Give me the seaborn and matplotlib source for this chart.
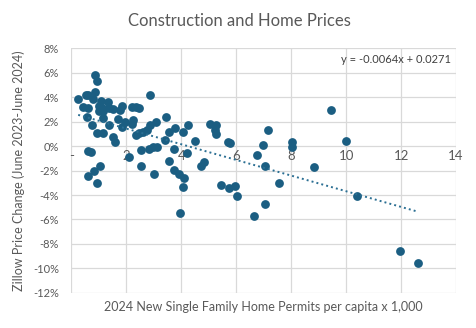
import numpy as np
import pandas as pd
import matplotlib
matplotlib.use("Agg")
import matplotlib.pyplot as plt
from matplotlib.ticker import FuncFormatter
import seaborn as sns

# Permits per 1,000 residents (2024) and Zillow price change, Jun 2023 - Jun 2024 (%)
permits = [
    0.855, 0.916, 0.247, 0.527, 0.618, 0.855, 0.771, 1.062, 1.316, 0.429,
    0.618, 1.011, 1.098, 1.000, 1.156, 1.375, 1.520, 1.825, 1.764, 2.200,
    2.345, 2.455, 2.855,
    0.553, 0.735, 1.156, 1.375, 1.691, 1.945, 1.855, 2.247, 2.218, 0.916,
    1.135, 1.520, 1.582, 2.345, 2.473, 2.764, 2.873, 3.091, 2.600, 3.447,
    3.545, 3.753, 4.065, 4.236, 3.425, 4.491,
    0.611, 0.709, 2.102, 2.516, 2.818, 2.975, 3.120, 3.745, 4.218, 1.036,
    0.829, 0.611, 0.938, 2.527, 3.018, 3.564, 3.745, 3.927, 4.098, 4.065,
    3.971, 4.735,
    5.036, 5.255, 5.218, 5.280, 5.702, 5.789, 7.156, 6.975, 6.745, 8.029,
    8.029, 8.829, 4.829, 7.062, 5.462, 5.738, 5.971, 6.044, 7.556, 7.062,
    6.647, 9.462, 10.007, 10.393, 11.945, 12.611,
]
price_change = [
    5.82, 5.33, 3.81, 4.18, 4.14, 4.43, 3.81, 3.69, 3.63, 3.16,
    3.11, 3.28, 3.09, 2.89, 2.87, 3.09, 3.03, 3.30, 2.91, 3.22,
    3.16, 3.09, 4.14,
    2.35, 1.72, 2.27, 1.76, 2.21, 1.99, 1.56, 2.13, 1.84, 1.07,
    1.07, 0.74, 0.33, 0.90, 1.07, 1.31, 1.72, 1.93, 1.19, 2.35,
    1.19, 1.48, 1.12, 1.72, 0.52, 0.39,
    -0.43, -0.52, -0.90, -0.30, -0.25, -0.11, -0.11, -0.20, -0.59, -1.66,
    -2.07, -2.48, -2.98, -1.66, -2.30, -1.25, -1.93, -2.27, -2.60, -3.34,
    -5.43, -1.62,
    1.80, 1.72, 1.31, 0.96, 0.35, 0.22, 1.31, 0.06, -0.75, 0.33,
    -0.06, -1.72, -1.29, -1.64, -3.14, -3.39, -3.28, -4.10, -2.98, -4.70,
    -5.68, 2.95, 0.41, -4.10, -8.61, -9.53,
]

# Linear trend (price change as a fraction)
slope = -0.0064
intercept = 0.0271

x_ticks = [0, 2, 4, 6, 8, 10, 12, 14]
x_tick_labels = ["-", "2", "4", "6", "8", "10", "12", "14"]
y_ticks = [8, 6, 4, 2, 0, -2, -4, -6, -8, -10, -12]

df = pd.DataFrame({"permits": permits, "price_change": price_change})

sns.set_theme(style="white")
plt.rcParams["font.family"] = ["Lato", "DejaVu Sans"]

text_grey = "#595959"
grid_grey = "#d9d9d9"
point_blue = "#1b5e82"

fig = plt.figure(figsize=(4.76, 3.28), dpi=100)
ax = fig.add_axes([0.150, 0.107, 0.808, 0.746])

ax.set_xlim(0, 14)
ax.set_ylim(-12, 8)
ax.set_xticks(x_ticks)
ax.set_yticks(y_ticks)
ax.grid(True, color=grid_grey, linewidth=0.9)
ax.set_axisbelow(True)
for side in ax.spines.values():
    side.set_visible(False)

sns.scatterplot(data=df, x="permits", y="price_change", ax=ax,
                s=40, color=point_blue, edgecolor=point_blue, linewidth=0,
                zorder=3, legend=False)

# dotted trendline across the observed range
xs = np.array([min(permits), max(permits)])
ax.plot(xs, (slope * xs + intercept) * 100, linestyle=(0, (1, 1.6)),
        color="#2b6f93", linewidth=1.4, zorder=4)

ax.yaxis.set_major_formatter(FuncFormatter(lambda v, p: f"{v:.0f}%"))
ax.tick_params(axis="y", length=0, labelsize=8, labelcolor=text_grey, pad=9)
ax.tick_params(axis="x", length=0, labelbottom=False)

# x tick labels sit just below the zero line
for xv, lab in zip(x_ticks, x_tick_labels):
    ax.text(xv, -0.35, lab, ha="center", va="top", fontsize=9.5,
            color=text_grey, zorder=2)

ax.set_xlabel("2024 New Single Family Home Permits per capita x 1,000",
              fontsize=9, color=text_grey, labelpad=6)
ax.set_ylabel("Zillow Price Change (June 2023-June 2024)",
              fontsize=9, color=text_grey, labelpad=6)

ax.text(0.988, 0.955, f"y = {slope:.4f}x + {intercept:.4f}",
        transform=ax.transAxes, ha="right", va="center",
        fontsize=8, color="#404040", zorder=5)

fig.text(0.502, 0.937, "Construction and Home Prices", ha="center",
         va="center", fontsize=12, color=text_grey)

fig.savefig("out.png", dpi=100)
